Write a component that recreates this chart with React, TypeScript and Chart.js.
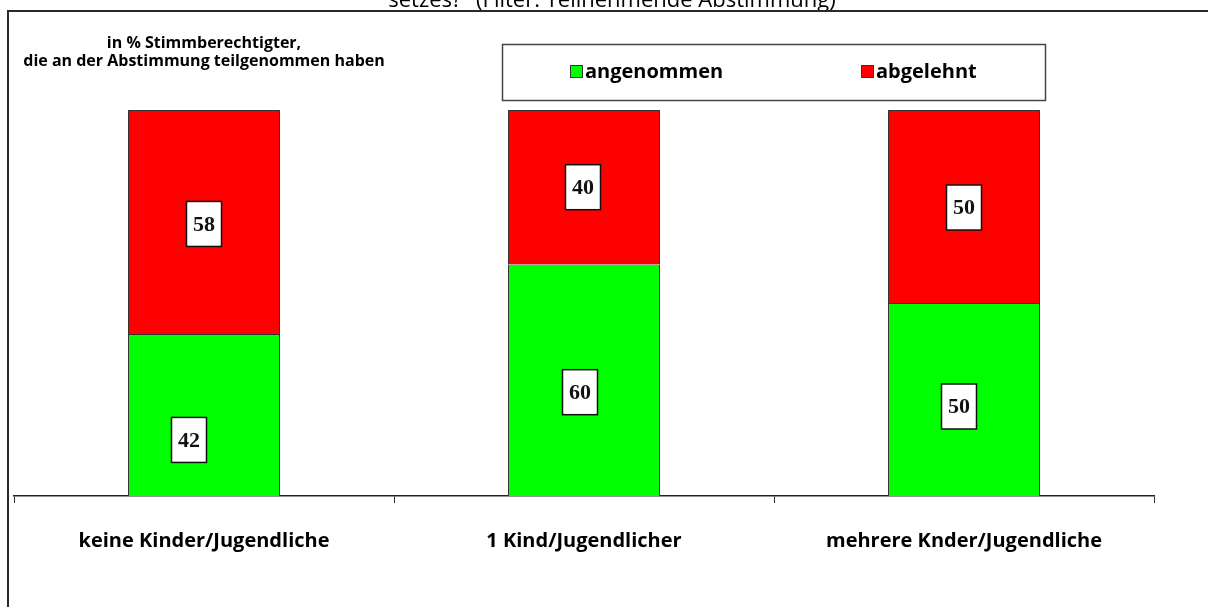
import { useEffect, useRef } from "react";
import { Chart, registerables } from "chart.js";

Chart.register(...registerables);

const categories = ["keine Kinder/Jugendliche", "1 Kind/Jugendlicher", "mehrere Knder/Jugendliche"];
const seriesNames = ["angenommen", "abgelehnt"];
const angenommen = [42, 60, 50];
const abgelehnt = [58, 40, 50];
const seriesColors = ["#00FF00", "#FF0000"];
const titleText = 'setzes?" (Filter: Teilnehmende Abstimmung)';
const noteLines = ["in % Stimmberechtigter,", "die an der Abstimmung teilgenommen haben"];

// small pixel nudges for the value boxes (style only), [series][category]
const labelNudgeX = [[-15, -4, -5], [0, -1, 0]];
const labelNudgeY = [[25, 12, 7], [2, 0, 1]];

const SANS = '"Open Sans", "DejaVu Sans", sans-serif';
const SERIF = '"Liberation Serif", "DejaVu Serif", serif';

const framePlugin = {
  id: "frame",
  beforeDraw(chart: any) {
    const { ctx, width, height } = chart;
    ctx.save();
    ctx.fillStyle = "#ffffff";
    ctx.fillRect(0, 0, width, height);
    // title (cut off at the top)
    ctx.fillStyle = "#000";
    ctx.font = `normal 22px ${SANS}`;
    ctx.textAlign = "center";
    ctx.textBaseline = "alphabetic";
    ctx.fillText(titleText, 612, 7);
    // frame
    ctx.strokeStyle = "#2a2a2a";
    ctx.lineWidth = 2;
    ctx.beginPath();
    ctx.moveTo(8, height + 2);
    ctx.lineTo(8, 11);
    ctx.lineTo(width + 2, 11);
    ctx.stroke();
    // note text
    ctx.fillStyle = "#000";
    ctx.font = `bold 16px ${SANS}`;
    ctx.textAlign = "center";
    ctx.fillText(noteLines[0], 204, 48);
    ctx.fillText(noteLines[1], 204, 66);
    // legend box
    ctx.strokeStyle = "#444";
    ctx.lineWidth = 1.5;
    ctx.strokeRect(502.5, 44.5, 543, 56);
    const swatchX = [570, 861];
    chart.data.datasets.forEach((ds: any, i: number) => {
      const x = swatchX[i];
      ctx.fillStyle = ds.backgroundColor;
      ctx.fillRect(x, 65, 13, 13);
      ctx.strokeStyle = "#333";
      ctx.lineWidth = 1;
      ctx.strokeRect(x + 0.5, 65.5, 12, 12);
      ctx.fillStyle = "#000";
      ctx.font = `bold 20px ${SANS}`;
      ctx.textAlign = "left";
      ctx.fillText(ds.label, x + 15, 78);
    });
    ctx.restore();
  },
};

const valueBoxPlugin = {
  id: "valueBoxes",
  afterDatasetsDraw(chart: any) {
    const { ctx } = chart;
    ctx.save();
    chart.data.datasets.forEach((ds: any, i: number) => {
      const meta = chart.getDatasetMeta(i);
      meta.data.forEach((el: any, j: number) => {
        const cx = el.x + labelNudgeX[i][j];
        const cy = (el.y + el.base) / 2 + labelNudgeY[i][j];
        const w = 35;
        const h = 45;
        ctx.fillStyle = "#fff";
        ctx.fillRect(cx - w / 2, cy - h / 2, w, h);
        ctx.strokeStyle = "#111";
        ctx.lineWidth = 1.5;
        ctx.strokeRect(cx - w / 2, cy - h / 2, w, h);
        ctx.fillStyle = "#111";
        ctx.font = `bold 22px ${SERIF}`;
        ctx.textAlign = "center";
        ctx.textBaseline = "middle";
        ctx.fillText(String(ds.data[j]), cx, cy + 1);
      });
    });
    ctx.restore();
  },
};

export default function App() {
  const ref = useRef<HTMLCanvasElement | null>(null);
  useEffect(() => {
    document.body.style.margin = "0";
    const canvas = ref.current!;
    const chart = new Chart(canvas, {
      type: "bar",
      data: {
        labels: categories,
        datasets: [
          {
            label: seriesNames[0],
            data: angenommen,
            backgroundColor: seriesColors[0],
            borderColor: "#333",
            borderWidth: 1,
          },
          {
            label: seriesNames[1],
            data: abgelehnt,
            backgroundColor: seriesColors[1],
            borderColor: "#333",
            borderWidth: 1,
          },
        ],
      },
      options: {
        responsive: false,
        animation: false,
        devicePixelRatio: 1,
        layout: { padding: { left: 14, right: 54, top: 110, bottom: 28 } },
        datasets: { bar: { barPercentage: 0.4, categoryPercentage: 1 } },
        plugins: {
          legend: { display: false },
          title: { display: false },
          tooltip: { enabled: false },
        },
        scales: {
          x: {
            stacked: true,
            grid: {
              display: true,
              drawOnChartArea: false,
              drawTicks: true,
              tickLength: 7,
              color: "#333",
              lineWidth: 1,
              offset: true,
            },
            border: { display: true, color: "#222", width: 1.5 },
            ticks: {
              color: "#000",
              padding: 26,
              font: { family: SANS, size: 20, weight: "bold" },
              maxRotation: 0,
            },
          },
          y: {
            stacked: true,
            display: false,
            min: 0,
            max: 100,
          },
        },
      },
      plugins: [framePlugin, valueBoxPlugin],
    });
    return () => chart.destroy();
  }, []);
  return <canvas ref={ref} width={1208} height={607} style={{ display: "block" }} />;
}
